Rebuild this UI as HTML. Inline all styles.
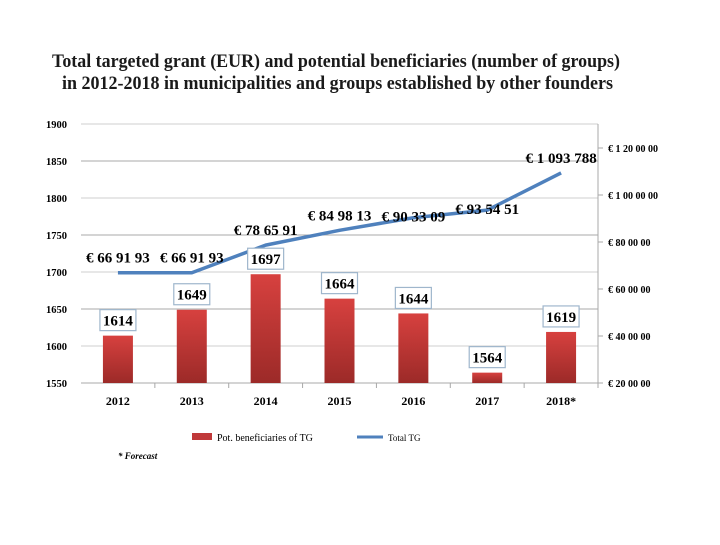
<!DOCTYPE html>
<html><head><meta charset="utf-8"><style>
body{margin:0;background:#fff;width:720px;height:540px;overflow:hidden;font-family:"Liberation Serif",serif}
</style></head><body>
<svg width="720" height="540" viewBox="0 0 720 540" xmlns="http://www.w3.org/2000/svg" font-family="Liberation Sans, sans-serif">
<defs><linearGradient id="bg" x1="0" y1="0" x2="0" y2="1"><stop offset="0" stop-color="#d7413f"/><stop offset="1" stop-color="#9c2a28"/></linearGradient></defs>
<text x="52" y="67" font-size="19" font-weight="bold" fill="#1a1a1a" font-family="Liberation Serif,serif" textLength="568" lengthAdjust="spacingAndGlyphs">Total targeted grant (EUR) and potential beneficiaries (number of groups)</text>
<text x="62" y="89" font-size="19" font-weight="bold" fill="#1a1a1a" font-family="Liberation Serif,serif" textLength="551" lengthAdjust="spacingAndGlyphs">in 2012-2018 in municipalities and groups established by other founders</text>
<g id="grid"></g><g id="bars"></g><g id="line"></g><g id="labels"></g>
<g>
<rect x="192" y="433" width="20" height="7" fill="#c0393a"/>
<text x="217" y="441" font-size="10" font-family="Liberation Serif,serif">Pot. beneficiaries of TG</text>
<line x1="357" y1="437" x2="383" y2="437" stroke="#4f81bd" stroke-width="3"/>
<text x="388" y="441" font-size="9" font-family="Liberation Serif,serif">Total TG</text>
</g>
<text x="118" y="459" font-size="9" font-weight="bold" font-style="italic" font-family="Liberation Serif,serif">* Forecast</text>
</svg>
<script>
const categories=["2012","2013","2014","2015","2016","2017","2018*"];
const beneficiaries=[1614,1649,1697,1664,1644,1564,1619];
const grants=[66919,66919,78659,84981,90331,93545,109379];
const grantLabels=["€ 66 91 93","€ 66 91 93","€ 78 65 91","€ 84 98 13","€ 90 33 09","€ 93 54 51","€ 1 093 788"];
const leftTicks=[1550,1600,1650,1700,1750,1800,1850,1900];
const rightTicks=[20000,40000,60000,80000,100000,120000];
const rightTickLabels=["€ 20 00 00","€ 40 00 00","€ 60 00 00","€ 80 00 00","€ 1 00 00 00","€ 1 20 00 00"];
const NS="http://www.w3.org/2000/svg";
const X0=81,X1=598,T=124,B=383;
const bw=(X1-X0)/categories.length;
const xc=i=>X0+bw*(i+0.5);
const yl=v=>B-(v-1550)/(350)*(B-T);
const yr=v=>B-(v-20000)/20000*47;
function mk(tag,attrs,parent,txt){const e=document.createElementNS(NS,tag);for(const k in attrs)e.setAttribute(k,attrs[k]);if(txt!==undefined)e.textContent=txt;parent.appendChild(e);return e;}
const g=document.getElementById('grid'),gb=document.getElementById('bars'),gl=document.getElementById('line'),gt=document.getElementById('labels');
leftTicks.forEach((v,i)=>{
 const l=mk('line',{x1:X0,x2:X1,y1:yl(v),y2:yl(v),stroke:i%2?'#cfcfcf':'#a8a8a8','stroke-width':1},g);
 
 
 const t=mk('text',{x:46,y:yl(v)+4,'font-size':10.5,'font-weight':'bold','font-family':'Liberation Serif,serif'},g,v);
 
 
});
const ra=mk('line',{x1:X1,x2:X1,y1:T,y2:B,stroke:'#a8a8a8'},g);


rightTicks.forEach((v,i)=>{
 const tk=mk('line',{x1:X1,x2:X1+5,y1:yr(v),y2:yr(v),stroke:'#a8a8a8'},g);
 
 
 const t=mk('text',{x:608,y:yr(v)+4,'font-size':10,'font-weight':'bold','font-family':'Liberation Serif,serif'},g,rightTickLabels[i]);
 
 
});
categories.forEach((c,i)=>{
 const tk=mk('line',{x1:X0+bw*(i+1),x2:X0+bw*(i+1),y1:B,y2:B+5,stroke:'#a8a8a8'},g);
 
 
 const t=mk('text',{x:xc(i),y:405,'text-anchor':'middle','font-size':12,'font-weight':'bold','font-family':'Liberation Serif,serif'},g,c);
 
 
 const y=yl(beneficiaries[i]);
 const r=mk('rect',{x:xc(i)-15,y:y,width:30,height:B-y,fill:'url(#bg)'},gb);
 
 
 const bx=mk('rect',{x:xc(i)-18,y:y-26,width:36,height:21,fill:'#fff',stroke:'#9fb6cc','stroke-width':1.2},gt);
 
 
 const bt=mk('text',{x:xc(i),y:y-10,'text-anchor':'middle','font-size':15,'font-weight':'bold','font-family':'Liberation Serif,serif'},gt,beneficiaries[i]);
 
 
});
const pts=grants.map((v,i)=>xc(i)+','+yr(v)).join(' ');
const pl=mk('polyline',{points:pts,fill:'none',stroke:'#4f81bd','stroke-width':3.5,'stroke-linejoin':'round'},gl);


grants.forEach((v,i)=>{
 const off=(i===4||i===5)?-4:10;
 const t=mk('text',{x:xc(i),y:yr(v)-off,'text-anchor':'middle','font-size':15,'font-weight':'bold','font-family':'Liberation Serif,serif'},gt,grantLabels[i]);
 
 
});
</script>
</body></html>
